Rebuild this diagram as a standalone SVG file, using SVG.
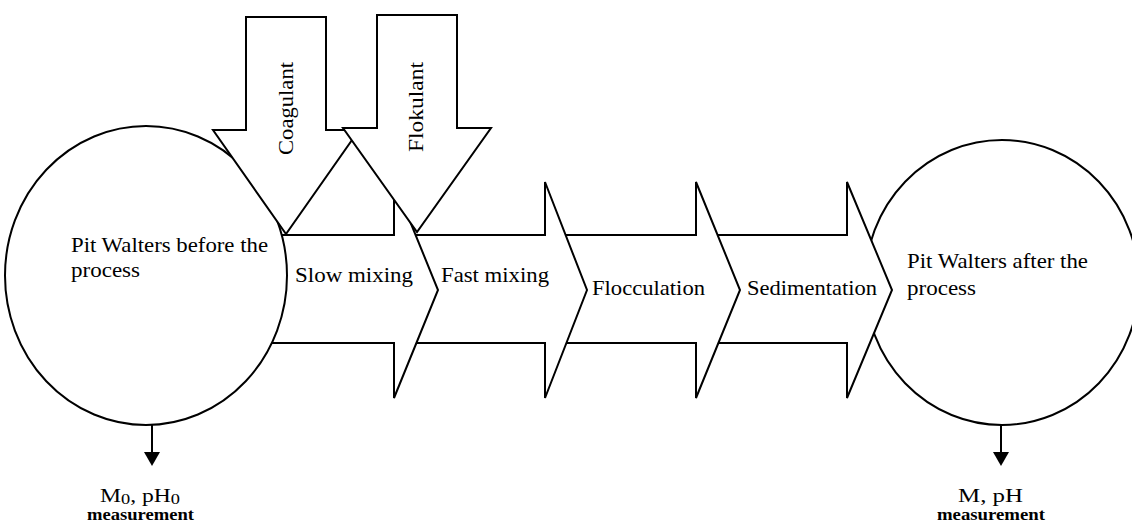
<svg xmlns="http://www.w3.org/2000/svg" width="1132" height="524" viewBox="0 0 1132 524">
<style>
.shape{fill:#fff;stroke:#000;stroke-width:2;stroke-linejoin:miter}
.lbl{font-family:"Liberation Serif","Times New Roman",serif;font-size:21px;fill:#000}
.meas{font-family:"Liberation Serif","Times New Roman",serif;font-size:18px;fill:#000}
.measb{font-family:"Liberation Serif","Times New Roman",serif;font-size:17px;font-weight:bold;fill:#000}
.conn{stroke:#000;stroke-width:2;fill:none}
.head{fill:#000;stroke:none}
</style>
<rect x="0" y="0" width="1132" height="524" fill="#fff"/>
<g id="node-after">
<ellipse class="shape" cx="1002" cy="282.5" rx="137" ry="142.5"/>
</g>
<g id="node-sedimentation">
<polygon class="shape" points="680,235 847,235 847,182 892,290 847,398 847,343 680,343"/>
<text class="lbl" x="747" y="295" textLength="130" lengthAdjust="spacingAndGlyphs">Sedimentation</text>
</g>
<g id="node-flocculation">
<polygon class="shape" points="530,235 696,235 696,182 740,290 696,398 696,343 530,343"/>
<text class="lbl" x="592" y="295" textLength="113" lengthAdjust="spacingAndGlyphs">Flocculation</text>
</g>
<g id="node-fast">
<polygon class="shape" points="380,235 545,235 545,182 587,290 545,398 545,343 380,343"/>
<text class="lbl" x="441" y="282" textLength="108" lengthAdjust="spacingAndGlyphs">Fast mixing</text>
</g>
<g id="node-slow">
<polygon class="shape" points="200,235 394,235 394,182 438,290 394,398 394,343 200,343"/>
<text class="lbl" x="295" y="282" textLength="118" lengthAdjust="spacingAndGlyphs">Slow mixing</text>
</g>
<g id="node-before">
<ellipse class="shape" cx="146" cy="275.5" rx="141" ry="149.5"/>
<text class="lbl" x="71" y="252" textLength="197" lengthAdjust="spacingAndGlyphs">Pit Walters before the</text>
<text class="lbl" x="71" y="277" textLength="69" lengthAdjust="spacingAndGlyphs">process</text>
</g>
<g id="node-after-label">
<text class="lbl" x="907" y="268" textLength="181" lengthAdjust="spacingAndGlyphs">Pit Walters after the</text>
<text class="lbl" x="907" y="295" textLength="69" lengthAdjust="spacingAndGlyphs">process</text>
</g>
<g id="node-coagulant">
<polygon class="shape" points="246,17 326,17 326,130 359,130 286,234 213,130 246,130"/>
<text class="lbl" transform="translate(293,155) rotate(-90)" x="0" y="0" textLength="93" lengthAdjust="spacingAndGlyphs">Coagulant</text>
</g>
<g id="node-flokulant">
<polygon class="shape" points="377,15 457,15 457,128 491,128 417,232 343,128 377,128"/>
<text class="lbl" transform="translate(423,152) rotate(-90)" x="0" y="0" textLength="90" lengthAdjust="spacingAndGlyphs">Flokulant</text>
</g>
<g id="connectors">
<line class="conn" x1="152" y1="425" x2="152" y2="454"/>
<polygon class="head" points="144,452 160,452 152,466"/>
<line class="conn" x1="1001" y1="425" x2="1001" y2="454"/>
<polygon class="head" points="993,452 1009,452 1001,466"/>
</g>
<g id="node-measure-before">
<text class="meas" x="100" y="502" textLength="80" lengthAdjust="spacingAndGlyphs">M<tspan font-size="14" dy="2">0</tspan><tspan dy="-2">, pH</tspan><tspan font-size="14" dy="2">0</tspan></text>
<text class="measb" x="87" y="520" textLength="107" lengthAdjust="spacingAndGlyphs">measurement</text>
</g>
<g id="node-measure-after">
<text class="meas" x="958" y="502" textLength="65" lengthAdjust="spacingAndGlyphs">M, pH</text>
<text class="measb" x="937" y="520" textLength="108" lengthAdjust="spacingAndGlyphs">measurement</text>
</g>
</svg>
